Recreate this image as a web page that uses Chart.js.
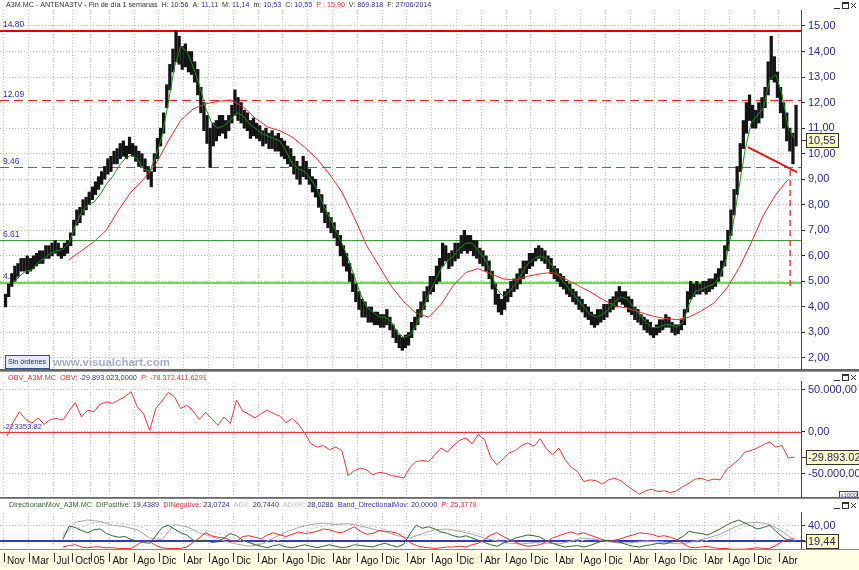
<!DOCTYPE html>
<html>
<head>
<meta charset="utf-8">
<script src="https://cdn.jsdelivr.net/npm/chart.js@4.4.1/dist/chart.umd.min.js"></script>
<style>
  html, body { margin: 0; padding: 0; background: #fff; }
  #wrap { position: relative; width: 859px; height: 570px; overflow: hidden; }
  canvas { position: absolute; left: 0; }
</style>
</head>
<body>
<div id="wrap">
  <canvas id="cPrice" width="859" height="371" style="top:0"></canvas>
  <canvas id="cObv" width="859" height="127" style="top:371px"></canvas>
  <canvas id="cDmi" width="859" height="72" style="top:498px"></canvas>
</div>
<script>
// ---- datos (x = meses desde nov 2003) ----
const tickMonths = [0, 4, 8, 11, 14, 17, 21, 25, 29, 33, 37, 41, 45, 49, 53, 57, 61, 65, 69, 73, 77, 81, 85, 89, 93, 97, 101, 105, 109, 113, 117, 121, 125];
const tickLabels = ['Nov', 'Mar', 'Jul', 'Oct', '05',
  'Abr', 'Ago', 'Dic', 'Abr', 'Ago', 'Dic', 'Abr', 'Ago', 'Dic', 'Abr', 'Ago', 'Dic', 'Abr', 'Ago', 'Dic',
  'Abr', 'Ago', 'Dic', 'Abr', 'Ago', 'Dic', 'Abr', 'Ago', 'Dic', 'Abr', 'Ago', 'Dic', 'Abr'];

// precio por quincenas: mínimo / máximo (dos valores por mes)
const priceLow = [
  4.0, 4.4, 4.8, 5.0, 5.2, 5.4, 5.4, 5.3, 5.4, 5.5,
  5.6, 5.7, 5.7, 5.9, 5.9, 6.0, 6.1, 6.0, 5.9, 6.0,
  6.1, 6.4, 6.8, 7.2, 7.3, 7.6, 7.8, 8.0, 8.2, 8.4,
  8.6, 8.8, 9.0, 9.2, 9.3, 9.6, 9.6, 9.8, 9.9, 9.8,
  10.0, 9.9, 9.7, 9.5, 9.5, 9.3, 9.0, 8.7, 9.3, 9.8,
  10.3, 10.8, 11.8, 12.5, 13.2, 13.6, 13.5, 13.3, 13.4, 13.2,
  13.1, 12.8, 12.3, 11.6, 10.9, 10.4, 9.46, 10.3, 10.5, 10.7,
  10.8, 10.6, 10.9, 11.2, 11.5, 11.3, 11.2, 11.0, 10.9, 10.6,
  10.7, 10.6, 10.5, 10.3, 10.4, 10.2, 10.2, 10.1, 10.1, 9.9,
  9.8, 9.6, 9.5, 9.2, 9.0, 8.8, 9.1, 9.0, 8.8, 8.5,
  8.3, 7.9, 7.7, 7.3, 7.1, 6.9, 6.7, 6.4, 6.0, 5.6,
  5.4, 5.0, 4.6, 4.2, 3.9, 3.6, 3.6, 3.4, 3.4, 3.3,
  3.3, 3.2, 3.2, 3.3, 3.1, 2.8, 2.6, 2.4, 2.3, 2.4,
  2.5, 2.8, 3.1, 3.3, 3.6, 3.9, 4.2, 4.5, 4.6, 4.9,
  5.0, 5.6, 5.8, 5.5, 5.6, 5.8, 5.9, 6.1, 6.2, 6.1,
  6.2, 6.0, 5.9, 5.7, 5.6, 5.4, 5.1, 4.7, 4.1, 3.8,
  3.7, 3.9, 4.2, 4.4, 4.6, 4.7, 4.9, 5.1, 5.3, 5.5,
  5.6, 5.8, 5.9, 5.8, 5.7, 5.5, 5.3, 5.1, 5.0, 4.8,
  4.7, 4.5, 4.4, 4.2, 4.1, 3.9, 3.8, 3.6, 3.5, 3.3,
  3.2, 3.3, 3.4, 3.5, 3.6, 3.8, 3.9, 4.0, 4.2, 4.1,
  4.0, 3.8, 3.7, 3.5, 3.4, 3.3, 3.1, 3.0, 2.9, 2.8,
  2.9, 3.0, 3.1, 3.2, 3.2, 3.0, 2.9, 2.95, 3.1, 3.3,
  3.8, 4.3, 4.4, 4.5, 4.5, 4.6, 4.5, 4.6, 4.7, 4.8,
  5.0, 5.2, 5.6, 6.2, 6.8, 7.6, 8.4, 9.3, 10.2, 10.8,
  11.3, 11.0, 11.0, 11.2, 11.4, 11.8, 12.3, 12.9, 12.8, 12.2,
  11.6, 11.0, 10.5, 10.1, 9.6, 10.3];
const priceHigh = [
  4.5, 4.9, 5.3, 5.6, 5.7, 5.9, 5.9, 6.0, 5.9, 6.0,
  6.1, 6.2, 6.2, 6.4, 6.4, 6.5, 6.6, 6.5, 6.3, 6.5,
  6.6, 6.9, 7.4, 7.8, 7.9, 8.2, 8.3, 8.5, 8.7, 8.9,
  9.1, 9.3, 9.5, 9.8, 9.9, 10.1, 10.2, 10.4, 10.5, 10.3,
  10.65, 10.4, 10.3, 10.1, 10.0, 9.8, 9.5, 9.3, 10.0, 10.6,
  11.0, 11.6, 12.7, 13.5, 14.1, 14.8, 14.6, 14.2, 14.3, 14.0,
  14.0, 13.6, 13.3, 12.6, 12.0, 11.5, 11.0, 11.2, 11.3, 11.5,
  11.5, 11.3, 11.5, 11.9, 12.5, 12.2, 12.0, 11.7, 11.6, 11.3,
  11.4, 11.2, 11.1, 10.9, 11.0, 10.8, 10.9, 10.7, 10.8, 10.6,
  10.5, 10.3, 10.2, 9.9, 9.7, 9.5, 9.9, 9.7, 9.4, 9.1,
  9.0, 8.6, 8.4, 8.0, 7.7, 7.5, 7.3, 7.0, 6.8, 6.4,
  6.1, 5.7, 5.3, 4.9, 4.6, 4.3, 4.2, 4.0, 4.0, 3.8,
  3.8, 3.7, 3.7, 3.9, 3.6, 3.3, 3.1, 2.9, 2.8, 2.9,
  3.0, 3.4, 3.6, 3.9, 4.2, 4.6, 4.8, 5.2, 5.2, 5.6,
  5.9, 6.5, 6.4, 6.1, 6.2, 6.5, 6.5, 6.8, 7.0, 6.8,
  6.8, 6.6, 6.6, 6.3, 6.2, 6.0, 5.8, 5.4, 4.9, 4.5,
  4.3, 4.6, 4.7, 5.0, 5.1, 5.3, 5.5, 5.8, 5.8, 6.1,
  6.1, 6.3, 6.4, 6.3, 6.2, 6.0, 5.9, 5.6, 5.5, 5.3,
  5.2, 5.0, 4.9, 4.7, 4.6, 4.4, 4.3, 4.1, 4.0, 3.8,
  3.7, 3.9, 3.9, 4.1, 4.1, 4.3, 4.4, 4.6, 4.8, 4.6,
  4.6, 4.4, 4.3, 4.0, 3.9, 3.7, 3.6, 3.5, 3.4, 3.2,
  3.3, 3.5, 3.5, 3.7, 3.6, 3.4, 3.3, 3.3, 3.5, 3.9,
  4.6, 5.0, 4.9, 5.0, 4.9, 5.0, 5.0, 5.1, 5.1, 5.3,
  5.5, 5.8, 6.4, 7.0, 7.8, 8.6, 9.5, 10.4, 11.3, 12.0,
  12.3, 11.9, 11.7, 12.0, 12.2, 12.6, 13.6, 14.6, 13.8, 13.2,
  12.6, 12.0, 11.6, 11.0, 10.8, 11.9];

// media corta (verde), meses 1..127
const greenMA = [
  4.95, 5.2, 5.4, 5.45, 5.75, 5.9, 6.1, 6.2, 6.25,
  6.5, 7.2, 7.7, 8.0, 8.1, 8.4, 8.8, 9.1, 9.5, 9.8,
  9.95, 9.8, 9.4, 9.3, 9.9, 10.7, 12.0, 13.4, 14.2, 14.0,
  13.4, 12.7, 11.8, 11.2, 11.0, 11.1, 11.3, 11.6, 11.5, 11.2,
  11.0, 10.8, 10.7, 10.6, 10.5, 10.1, 9.6, 9.4, 9.3, 9.0,
  8.6, 8.0, 7.5, 7.0, 6.5, 5.9, 5.2, 4.5, 4.0, 3.8,
  3.6, 3.6, 3.4, 3.0, 2.8, 2.9, 3.3, 3.9, 4.5, 5.0,
  5.5, 5.8, 6.0, 6.3, 6.5, 6.5, 6.2, 5.9, 5.4, 4.7,
  4.4, 4.6, 4.9, 5.3, 5.7, 5.9, 6.0, 5.9, 5.6, 5.2,
  4.9, 4.6, 4.3, 4.0, 3.7, 3.6, 3.7, 3.9, 4.2, 4.4,
  4.3, 4.0, 3.7, 3.4, 3.2, 3.2, 3.3, 3.3, 3.2, 3.4,
  4.1, 4.6, 4.7, 4.8, 4.9, 5.2, 5.9, 7.1, 8.6, 10.1,
  11.2, 11.5, 11.8, 12.9, 13.1, 12.3, 11.0, 10.6];
// media larga (roja), meses 10, 12, ... 126
const redMA = [
  5.85, 6.2, 6.55, 7.0, 7.8, 8.5, 9.0, 9.6, 10.5, 11.3,
  11.75, 11.95, 12.05, 12.1, 11.85, 11.4, 11.05, 10.9, 10.65, 10.25,
  9.8, 9.2, 8.5, 7.5, 6.4, 5.6, 4.8, 4.2, 3.75, 3.6,
  4.1, 4.85, 5.35, 5.5, 5.3, 5.1, 5.05, 5.2, 5.3, 5.35,
  5.1, 4.85, 4.6, 4.3, 4.05, 3.95, 3.8, 3.65, 3.55, 3.5,
  3.6, 3.85, 4.15, 4.7, 5.5, 6.5, 7.6, 8.4, 9.0];

const levelValues = [14.80, 12.09, 9.46, 6.61, 4.94];
const levelLabels = ['14.80', '12.09', '9.46', '6.61', '4.94'];
const trendMonths = [120.0, 127.9];
const trendValues = [10.26, 9.28];
const targetMonth = 126.8;
const targetRange = [9.36, 4.66];
const lastPrice = 10.55;

// OBV mensual (miles)
const obv = [
  -5000, 12000, 24000, 15000, 10700, 16700, 9000, 15000, 16000, 14300,
  25000, 35000, 18000, 26000, 24000, 33000, 35700, 34000, 38000, 42000,
  48000, 30000, 22000, 2000, 28000, 37000, 47000, 42000, 28000, 32000,
  25000, 15000, 23000, 16000, 8000, 18000, 10000, 38000, 25000, 21000,
  17000, 22000, 26000, 22000, 19000, 11000, 16000, 9000, -1000, -14000,
  -18000, -16000, -21000, -18000, -22000, -52000, -46000, -43000, -45000, -51000,
  -48000, -49000, -52000, -53000, -55000, -42000, -35000, -34000, -35000, -27000,
  -19000, -24000, -16000, -10000, -7000, -14000, -3000, -9000, -30000, -39000,
  -32000, -25000, -22000, -16000, -13000, -17000, -8000, -20000, -27000, -19000,
  -33000, -42000, -47000, -59000, -57000, -58000, -62000, -57000, -55000, -58000,
  -64000, -69000, -74000, -70000, -68000, -71000, -70000, -72000, -70000, -65000,
  -61000, -56000, -55000, -58000, -56000, -57000, -45000, -39000, -33000, -24000,
  -22000, -19000, -15000, -12000, -18000, -16000, -31000, -29893];
const obvLevel = -223.35382;
const obvLast = -29893.023;

// DMI, meses 9..127
const diPlus = [
  22, 40, 38, 34, 31, 35, 36, 30, 27, 25,
  26, 22, 20, 18, 17, 27, 38, 41, 36, 31,
  28, 21, 20, 21, 18, 19, 24, 30, 27, 21,
  18, 15, 13, 11, 14, 15, 12, 11, 13, 15,
  13, 11, 13, 15, 13, 11, 12, 15, 14, 13,
  12, 15, 17, 14, 12, 16, 30, 41, 37, 39,
  36, 32, 30, 27, 25, 27, 24, 21, 18, 15,
  13, 17, 20, 24, 26, 28, 27, 25, 20, 17,
  14, 12, 13, 14, 12, 14, 17, 20, 21, 19,
  18, 15, 13, 12, 14, 15, 17, 16, 18, 21,
  26, 33, 31, 30, 28, 32, 36, 41, 45, 48,
  44, 40, 36, 38, 41, 33, 26, 20, 19.44];
const diMinus = [
  12, 14, 15, 12, 11, 12, 12, 11, 11, 10,
  10, 10, 15, 20, 19, 14, 11, 10, 10, 10,
  12, 18, 24, 31, 27, 25, 24, 21, 19, 26,
  27, 25, 23, 28, 31, 28, 26, 29, 32, 30,
  31, 33, 36, 35, 32, 31, 35, 39, 33, 29,
  30, 34, 33, 32, 30, 25, 18, 14, 12, 11,
  10, 11, 12, 12, 13, 12, 15, 17, 22, 28,
  31, 26, 22, 18, 15, 13, 14, 15, 19, 24,
  27, 30, 32, 29, 31, 28, 25, 22, 20, 21,
  23, 26, 28, 31, 30, 29, 26, 27, 25, 22,
  17, 12, 11, 12, 13, 11, 10, 10, 9, 9,
  9, 10, 11, 10, 10, 14, 19, 22, 23.07];
// ADX / ADXR, meses 9, 11, ... 127
const adx = [
  26, 45, 48, 46, 41, 39, 35, 24, 22, 42,
  39, 31, 26, 20, 16, 13, 16, 24, 32, 38,
  42, 44, 42, 43, 40, 36, 32, 27, 24, 30,
  35, 36, 33, 29, 24, 20, 17, 16, 18, 17,
  16, 20, 24, 22, 19, 17, 18, 20, 19, 17,
  16, 20, 24, 29, 37, 44, 45, 42, 33, 20.74];
const adxr = [
  30, 36, 42, 45, 45, 43, 40, 34, 30, 32,
  34, 35, 33, 28, 22, 18, 16, 19, 24, 30,
  36, 40, 43, 43, 42, 39, 36, 31, 27, 27,
  30, 33, 35, 32, 27, 23, 20, 17, 17, 17,
  17, 18, 21, 23, 21, 18, 17, 19, 19, 18,
  17, 18, 21, 26, 32, 39, 44, 44, 38, 28.03];
const dmiBand = 20;
const dmiLast = 19.44;

// ---- helpers ----
const FONT = '"Liberation Sans", Arial, sans-serif';
const X_MIN = -0.645, X_MAX = 128.55;

function fmtEs(v, dec) {
  const parts = Math.abs(v).toFixed(dec).split('.');
  const ent = parts[0].replace(/\B(?=(\d{3})+(?!\d))/g, '.');
  return (v < 0 ? '-' : '') + ent + (dec ? ',' + parts[1] : '');
}

function xAxis(showLabels) {
  return {
    type: 'linear', min: X_MIN, max: X_MAX, offset: false,
    afterBuildTicks: s => { s.ticks = tickMonths.map(v => ({ value: v })); },
    afterFit: s => { s.height = showLabels ? 21 : 0; s.paddingLeft = 0; s.paddingRight = 0; },
    grid: { color: '#c4c4c4', drawTicks: false, offset: false },
    border: { display: false, dash: [1, 2] },
    ticks: showLabels ? {
      display: true, autoSkip: false, maxRotation: 0, minRotation: 0,
      align: 'start', labelOffset: 3, padding: 6, color: '#111',
      font: { family: FONT, size: 10 },
      callback: (v, i) => tickLabels[i]
    } : { display: false }
  };
}

function yAxis(min, max, ticksArr, dec) {
  return {
    position: 'right', min, max,
    afterBuildTicks: s => { s.ticks = ticksArr.map(v => ({ value: v })); },
    afterFit: s => { s.width = 58; s.paddingTop = 0; s.paddingBottom = 0; },
    grid: { color: '#c4c4c4', drawTicks: true, tickLength: 4, tickColor: '#333', tickWidth: 1 },
    border: { display: false, dash: [1, 2] },
    ticks: { padding: 3, autoSkip: false, color: '#2c2c8c', font: { family: FONT, size: 11 },
      callback: v => fmtEs(v, dec) }
  };
}

// texto por segmentos de colores, ajustado a un ancho
function drawSegs(ctx, segs, x, y, width, weight) {
  ctx.font = (weight || '') + ' 10px ' + FONT;
  const w = segs.reduce((s, g) => s + ctx.measureText(g[0]).width, 0);
  const size = 10 * width / w;
  ctx.font = (weight || '') + ' ' + size.toFixed(2) + 'px ' + FONT;
  ctx.textBaseline = 'middle';
  ctx.textAlign = 'left';
  segs.forEach(([t, c]) => { ctx.fillStyle = c; ctx.fillText(t, x, y); x += ctx.measureText(t).width; });
}

function valueBox(ctx, yPix, text) {
  ctx.font = '11px ' + FONT;
  const w = Math.round(ctx.measureText(text).width) + 4, h = 14;
  const top = Math.round(yPix - h / 2);
  ctx.strokeStyle = '#333'; ctx.lineWidth = 1;
  ctx.beginPath(); ctx.moveTo(801, Math.round(yPix) + 0.5); ctx.lineTo(806, Math.round(yPix) + 0.5); ctx.stroke();
  ctx.fillStyle = '#ffffc4'; ctx.fillRect(806, top, w, h);
  ctx.strokeRect(806.5, top + 0.5, w, h);
  ctx.fillStyle = '#1e1e66'; ctx.textBaseline = 'middle'; ctx.textAlign = 'left';
  ctx.fillText(text, 808, top + h / 2 + 0.5);
}

function winIcons(ctx, y) {
  ctx.save();
  ctx.strokeStyle = '#333'; ctx.lineWidth = 1;
  ctx.beginPath(); ctx.moveTo(834, y + 6.5); ctx.lineTo(840, y + 6.5); ctx.stroke();
  ctx.strokeRect(842.5, y + 0.5, 6, 6);
  ctx.beginPath(); ctx.moveTo(842.5, y + 1.5); ctx.lineTo(848.5, y + 1.5); ctx.stroke();
  ctx.beginPath(); ctx.moveTo(851, y + 1); ctx.lineTo(856, y + 6); ctx.moveTo(856, y + 1); ctx.lineTo(851, y + 6); ctx.stroke();
  ctx.restore();
}

function rightBorder(ctx, top, bottom) {
  ctx.fillStyle = '#444';
  ctx.fillRect(801, top, 1, bottom - top);
}

const whiteBg = {
  id: 'whiteBg',
  beforeDraw(chart) {
    const { ctx, width, height } = chart;
    ctx.save(); ctx.fillStyle = '#fff'; ctx.fillRect(0, 0, width, height); ctx.restore();
  }
};

const baseOpts = {
  responsive: false, maintainAspectRatio: false, animation: false, events: [],
  plugins: { legend: { display: false }, tooltip: { enabled: false } }
};

// ---- panel de precio ----
const priceDeco = {
  id: 'priceDeco',
  beforeDatasetsDraw(chart) {
    const { ctx, chartArea: a, scales: { y } } = chart;
    const colors = ['#e00000', '#e02828', '#2e8b57', '#3c9c3c', '#66e04a'];
    const widths = [2, 1, 1, 1, 2];
    const dashes = [[], [9, 5], [9, 5], [], []];
    ctx.save();
    levelValues.forEach((v, i) => {
      const py = Math.round(y.getPixelForValue(v)) + (widths[i] === 1 ? 0.5 : 0);
      ctx.strokeStyle = colors[i]; ctx.lineWidth = widths[i]; ctx.setLineDash(dashes[i]);
      ctx.beginPath(); ctx.moveTo(a.left, py); ctx.lineTo(a.right, py); ctx.stroke();
      ctx.setLineDash([]);
      ctx.fillStyle = '#3434c8'; ctx.font = '8.5px ' + FONT; ctx.textBaseline = 'bottom'; ctx.textAlign = 'left';
      ctx.fillText(levelLabels[i], 3, py - 2);
    });
    ctx.restore();
  },
  afterDraw(chart) {
    const { ctx, scales: { y } } = chart;
    ctx.save();
    drawSegs(ctx, [
      ['A3M.MC - ANTENA3TV - Fin de día 1 semanas  ', '#333'],
      ['H: ', '#333'], ['10:56', '#33339a'], ['  A: ', '#333'], ['11,11', '#33339a'],
      ['  M: ', '#333'], ['11,14', '#33339a'], ['  m: ', '#333'], ['10,53', '#33339a'],
      ['  C: ', '#333'], ['10,55', '#33339a'], ['  P : ', '#ff3030'], ['15,90', '#ff3030'],
      ['  V: ', '#333'], ['869.818', '#33339a'], ['  F: ', '#333'], ['27/06/2014', '#33339a']
    ], 6, 5.5, 426);
    rightBorder(ctx, 10, 370);
    winIcons(ctx, 2);
    valueBox(ctx, y.getPixelForValue(lastPrice), fmtEs(lastPrice, 2));
    // botón y marca de agua
    ctx.fillStyle = '#e2eaf4'; ctx.fillRect(5, 355, 44, 13);
    ctx.strokeStyle = '#35508a'; ctx.lineWidth = 1; ctx.strokeRect(5.5, 355.5, 44, 13);
    drawSegs(ctx, [['Sin órdenes', '#1c2c5c']], 8, 362, 38);
    drawSegs(ctx, [['www.visualchart.com', '#a4b0cc']], 53, 362.5, 117, 'bold');
    ctx.fillStyle = '#666'; ctx.fillRect(0, 369, 859, 2);
    ctx.restore();
  }
};

new Chart(document.getElementById('cPrice'), {
  type: 'bar',
  data: {
    datasets: [
      { type: 'line', order: 1, data: trendMonths.map((m, i) => ({ x: m, y: trendValues[i] })),
        borderColor: '#e01818', borderWidth: 2, pointRadius: 0 },
      { type: 'line', order: 1, data: targetRange.map(v => ({ x: targetMonth, y: v })),
        borderColor: '#f04040', borderWidth: 1.5, borderDash: [6, 4], pointRadius: 0 },
      { type: 'line', order: 3, data: greenMA.map((v, i) => ({ x: i + 1.5, y: v })),
        borderColor: '#1a901a', borderWidth: 1, pointRadius: 0 },
      { type: 'line', order: 4, data: redMA.map((v, i) => ({ x: 10.5 + 2 * i, y: v })),
        borderColor: '#ee2c2c', borderWidth: 1, pointRadius: 0 },
      { type: 'bar', order: 10, data: priceLow.map((lo, i) => ({ x: i * 0.5 + 0.25, y: [lo, priceHigh[i]] })),
        backgroundColor: '#141414', borderWidth: 0, barThickness: 2.6, grouped: false }
    ]
  },
  options: Object.assign({}, baseOpts, {
    layout: { padding: { top: 10, bottom: 1, left: 0, right: 0 } },
    scales: {
      x: xAxis(false),
      y: yAxis(1.5301, 15.6265, [2, 3, 4, 5, 6, 7, 8, 9, 10, 11, 12, 13, 14, 15], 2)
    }
  }),
  plugins: [whiteBg, priceDeco]
});

// ---- panel OBV ----
const obvDeco = {
  id: 'obvDeco',
  beforeDatasetsDraw(chart) {
    const { ctx, chartArea: a, scales: { y } } = chart;
    const py = Math.round(y.getPixelForValue(obvLevel)) + 0.5;
    ctx.save();
    ctx.strokeStyle = '#f03030'; ctx.lineWidth = 1;
    ctx.beginPath(); ctx.moveTo(a.left, py); ctx.lineTo(a.right, py); ctx.stroke();
    drawSegs(ctx, [['-223353.82', '#3434c8']], 3, py - 6, 39);
    ctx.restore();
  },
  afterDraw(chart) {
    const { ctx, scales: { y } } = chart;
    ctx.save();
    ctx.fillStyle = '#999'; ctx.fillRect(0, 0, 859, 1);
    drawSegs(ctx, [
      ['OBV_A3M.MC  OBV: ', '#e83030'], ['-29.893.023,0000', '#33339a'],
      ['  P: ', '#e83030'], ['-78.372.411,6291', '#e83030']
    ], 8, 6.5, 199);
    rightBorder(ctx, 10, 126);
    winIcons(ctx, 3);
    valueBox(ctx, y.getPixelForValue(obvLast), fmtEs(obvLast * 1000, 4));
    ctx.fillStyle = '#fff'; ctx.fillRect(839, 120, 19, 7);
    ctx.strokeStyle = '#3a3a9a'; ctx.strokeRect(839.5, 120.5, 18, 6);
    ctx.fillStyle = '#3a3a9a'; ctx.font = '6px ' + FONT; ctx.textBaseline = 'middle';
    ctx.fillText('x1000', 840.5, 124);
    ctx.fillStyle = '#666'; ctx.fillRect(0, 126, 859, 1);
    ctx.restore();
  }
};

new Chart(document.getElementById('cObv'), {
  type: 'line',
  data: {
    datasets: [
      { data: obv.map((v, i) => ({ x: i + 0.5, y: v })), borderColor: '#f03a3a', borderWidth: 1, pointRadius: 0 }
    ]
  },
  options: Object.assign({}, baseOpts, {
    layout: { padding: { top: 12, bottom: 1, left: 0, right: 0 } },
    scales: {
      x: xAxis(false),
      y: yAxis(-77381, 58333, [-50000, 0, 50000], 2)
    }
  }),
  plugins: [whiteBg, obvDeco]
});

// ---- panel DMI ----
const dmiDeco = {
  id: 'dmiDeco',
  beforeDraw(chart) {
    const { ctx, chartArea: a } = chart;
    ctx.save();
    ctx.fillStyle = '#ffffe4'; ctx.fillRect(0, a.bottom, 859, 72 - a.bottom);
    ctx.restore();
  },
  beforeDatasetsDraw(chart) {
    const { ctx, chartArea: a, scales: { y } } = chart;
    const py = Math.round(y.getPixelForValue(dmiBand));
    ctx.save();
    ctx.strokeStyle = '#3434d0'; ctx.lineWidth = 2;
    ctx.beginPath(); ctx.moveTo(a.left, py); ctx.lineTo(a.right, py); ctx.stroke();
    ctx.restore();
  },
  afterDraw(chart) {
    const { ctx, chartArea: a, scales: { x, y } } = chart;
    ctx.save();
    ctx.fillStyle = '#888'; ctx.fillRect(0, 0, 859, 1);
    drawSegs(ctx, [
      ['DirectionanMov_A3M.MC  DIPositive: ', '#2e6b2e'], ['19,4389', '#33339a'],
      ['  DINegative: ', '#f03030'], ['23,0724', '#33339a'],
      ['  ADX: ', '#c0c0c0'], ['20,7440', '#33339a'],
      ['  ADXR: ', '#c0c0c0'], ['28,0286', '#33339a'],
      ['  Band_DirectionalMov: ', '#3434c8'], ['20,0000', '#33339a'],
      ['  P: ', '#f03030'], ['25,3779', '#f03030']
    ], 9, 7, 468);
    rightBorder(ctx, 14, a.bottom);
    winIcons(ctx, 4);
    valueBox(ctx, y.getPixelForValue(dmiLast), fmtEs(dmiLast, 2));
    ctx.fillStyle = '#888'; ctx.fillRect(0, a.bottom, 859, 1);
    ctx.fillStyle = '#333';
    tickMonths.forEach(v => {
      const px = Math.round(x.getPixelForValue(v));
      ctx.fillRect(px, a.bottom + 4, 1, 9);
    });
    ctx.restore();
  }
};

new Chart(document.getElementById('cDmi'), {
  type: 'line',
  data: {
    datasets: [
      { data: diPlus.map((v, i) => ({ x: i + 9.5, y: v })), borderColor: '#2f6a2f', borderWidth: 1, pointRadius: 0 },
      { data: diMinus.map((v, i) => ({ x: i + 9.5, y: v })), borderColor: '#f03030', borderWidth: 1, pointRadius: 0 },
      { data: adx.map((v, i) => ({ x: 9.5 + 2 * i, y: v })), borderColor: '#a8a8a8', borderWidth: 1, pointRadius: 0 },
      { data: adxr.map((v, i) => ({ x: 9.5 + 2 * i, y: v })), borderColor: '#cfcfcf', borderWidth: 1, borderDash: [3, 2], pointRadius: 0 }
    ]
  },
  options: Object.assign({}, baseOpts, {
    layout: { padding: { top: 15, bottom: 0, left: 0, right: 0 } },
    scales: {
      x: xAxis(true),
      y: yAxis(9.333, 57.333, [20, 40], 2)
    }
  }),
  plugins: [whiteBg, dmiDeco]
});
</script>
</body>
</html>
